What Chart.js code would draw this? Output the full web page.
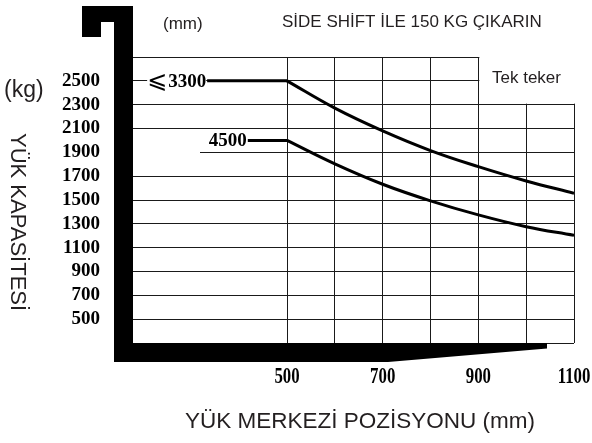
<!DOCTYPE html>
<html><head><meta charset="utf-8">
<script src="https://cdn.jsdelivr.net/npm/chart.js@4.4.1/dist/chart.umd.min.js"></script>
<style>html,body{margin:0;padding:0;background:#fff}#wrap{width:592px;height:443px;position:relative}</style>
</head><body><div id="wrap"><canvas id="c" width="592" height="443"></canvas></div>
<script>
// ---- data ----
const loadCenters = [500, 600, 700, 800, 900, 1000, 1100];      // mm
const cap3300 = [2500, 2271, 2080, 1915, 1780, 1660, 1557];     // kg, mast <=3300
const cap4500 = [2000, 1803, 1632, 1493, 1375, 1276, 1203];     // kg, mast 4500
const flatStart = [333, 418];                                    // mm where flat part begins
const seriesNames = ['3300', '4500'];
const xGridTicks = [500, 600, 700, 800, 900, 1000, 1100];
const xTickLabels = ['500', '700', '900', '1100'];
const yGridTicks = [300, 500, 700, 900, 1100, 1300, 1500, 1700, 1900, 2100, 2300, 2500, 2700];
const yTickLabels = ['500', '700', '900', '1100', '1300', '1500', '1700', '1900', '2100', '2300', '2500'];
const xMin = 178, xMax = 1100, yMin = 300, yMax = 2700;
const notch = {x: 900, y: 2300};   // top-right empty area ("Tek teker")

const pts = (xs, ys) => xs.map((x, i) => ({x, y: ys[i]}));
const lineStyle = {borderColor: '#000', borderWidth: 3, pointRadius: 0, fill: false};

Chart.defaults.font.family = '"Liberation Sans", Arial, sans-serif';

const decor = {
  id: 'decor',
  beforeDatasetsDraw(chart) {
    const {ctx, chartArea: a, scales: {x, y}} = chart;
    ctx.save();
    ctx.fillStyle = '#fff';
    // empty notch at top-right
    const nx = x.getPixelForValue(notch.x), ny = y.getPixelForValue(notch.y);
    ctx.fillRect(nx + 1, a.top - 3, a.right - nx + 4, ny - a.top + 2);
    // white patch next to the 4500 label
    ctx.fillRect(a.left, y.getPixelForValue(1900) - 3, 67, 6);
    ctx.restore();
  },
  afterDatasetsDraw(chart) {
    const {ctx, chartArea: a, scales: {x, y}} = chart;
    const L = a.left, B = a.bottom;
    ctx.save();
    ctx.fillStyle = '#000';
    // thick vertical bar + hook
    ctx.fillRect(L - 19, 6, 19, B + 19 - 6);
    ctx.fillRect(82, 6, L - 82, 16);
    ctx.fillRect(82, 6, 19, 31);
    // bottom tine with tapering end
    ctx.beginPath();
    ctx.moveTo(L - 19, B);
    ctx.lineTo(547, B);
    ctx.lineTo(547, B + 5.5);
    ctx.lineTo(388, B + 19);
    ctx.lineTo(L - 19, B + 19);
    ctx.closePath();
    ctx.fill();

    // series labels
    const yA = y.getPixelForValue(cap3300[0]);
    const yB = y.getPixelForValue(cap4500[0]);
    const xA = x.getPixelForValue(flatStart[0]);
    const xB = x.getPixelForValue(flatStart[1]);
    ctx.fillStyle = '#fff';
    ctx.fillRect(xA - 60, yA - 8, 59, 16);
    ctx.fillStyle = '#000';
    ctx.textBaseline = 'middle';
    ctx.textAlign = 'right';
    ctx.font = 'bold 19px "Liberation Serif"';
    ctx.fillText(seriesNames[0], xA - 1, yA + 1);
    ctx.fillText(seriesNames[1], xB - 1, yB + 1);
    ctx.font = '24px "DejaVu Sans"';
    ctx.fillText('\u2A7D', xA - 40, yA + 1);

    // x tick labels (condensed bold serif)
    ctx.textAlign = 'center';
    ctx.textBaseline = 'alphabetic';
    xTickLabels.forEach(l => {
      const px = x.getPixelForValue(Number(l));
      ctx.save();
      ctx.translate(px, 383);
      ctx.scale(0.7, 1);
      ctx.font = 'bold 24px "Liberation Serif"';
      ctx.fillText(l, 0, 0);
      ctx.restore();
    });

    // texts
    ctx.fillStyle = '#231f20';
    ctx.textAlign = 'left';
    ctx.font = '17px "Liberation Sans"';
    ctx.fillText('(mm)', 163, 29);
    ctx.fillText('SİDE SHİFT İLE 150 KG ÇIKARIN', 282, 27);
    ctx.fillText('Tek teker', 492, 83);
    ctx.font = '23px "Liberation Sans"';
    ctx.fillText('(kg)', 4, 97);
    ctx.font = '22.5px "Liberation Sans"';
    ctx.fillText('YÜK MERKEZİ POZİSYONU (mm)', 185, 428);
    ctx.save();
    ctx.translate(11, 133);
    ctx.rotate(Math.PI / 2);
    ctx.font = '22px "Liberation Sans"';
    ctx.fillText('YÜK KAPASİTESİ', 0, 0);
    ctx.restore();
    ctx.restore();
  }
};

new Chart(document.getElementById('c'), {
  type: 'line',
  data: {
    datasets: [
      {...lineStyle, label: 'flat ' + seriesNames[0], data: pts([flatStart[0], loadCenters[0]], [cap3300[0], cap3300[0]]), tension: 0},
      {...lineStyle, label: seriesNames[0], data: pts(loadCenters, cap3300), tension: 0.4},
      {...lineStyle, label: 'flat ' + seriesNames[1], data: pts([flatStart[1], loadCenters[0]], [cap4500[0], cap4500[0]]), tension: 0},
      {...lineStyle, label: seriesNames[1], data: pts(loadCenters, cap4500), tension: 0.4}
    ]
  },
  options: {
    responsive: false,
    devicePixelRatio: 1,
    animation: false,
    events: [],
    layout: {padding: {top: 57, right: 18, left: 0, bottom: 0}},
    plugins: {legend: {display: false}, tooltip: {enabled: false}, title: {display: false}},
    scales: {
      x: {
        type: 'linear', min: xMin, max: xMax,
        afterBuildTicks: s => { s.ticks = xGridTicks.map(v => ({value: v})); },
        afterFit: s => { s.height = 100; },
        border: {display: false},
        grid: {color: '#1a1a1a', lineWidth: 1, drawTicks: false},
        ticks: {display: false, autoSkip: false}
      },
      y: {
        type: 'linear', min: yMin, max: yMax,
        afterBuildTicks: s => { s.ticks = yGridTicks.map(v => ({value: v})); },
        afterFit: s => { s.width = 133; },
        border: {display: false},
        grid: {color: '#1a1a1a', lineWidth: 1, drawTicks: false},
        ticks: {
          autoSkip: false,
          padding: 33, color: '#000',
          font: {family: '"Liberation Serif"', weight: 'bold', size: 19},
          callback: v => yTickLabels.includes(String(v)) ? String(v) : ''
        }
      }
    }
  },
  plugins: [decor]
});
</script>
</body></html>
